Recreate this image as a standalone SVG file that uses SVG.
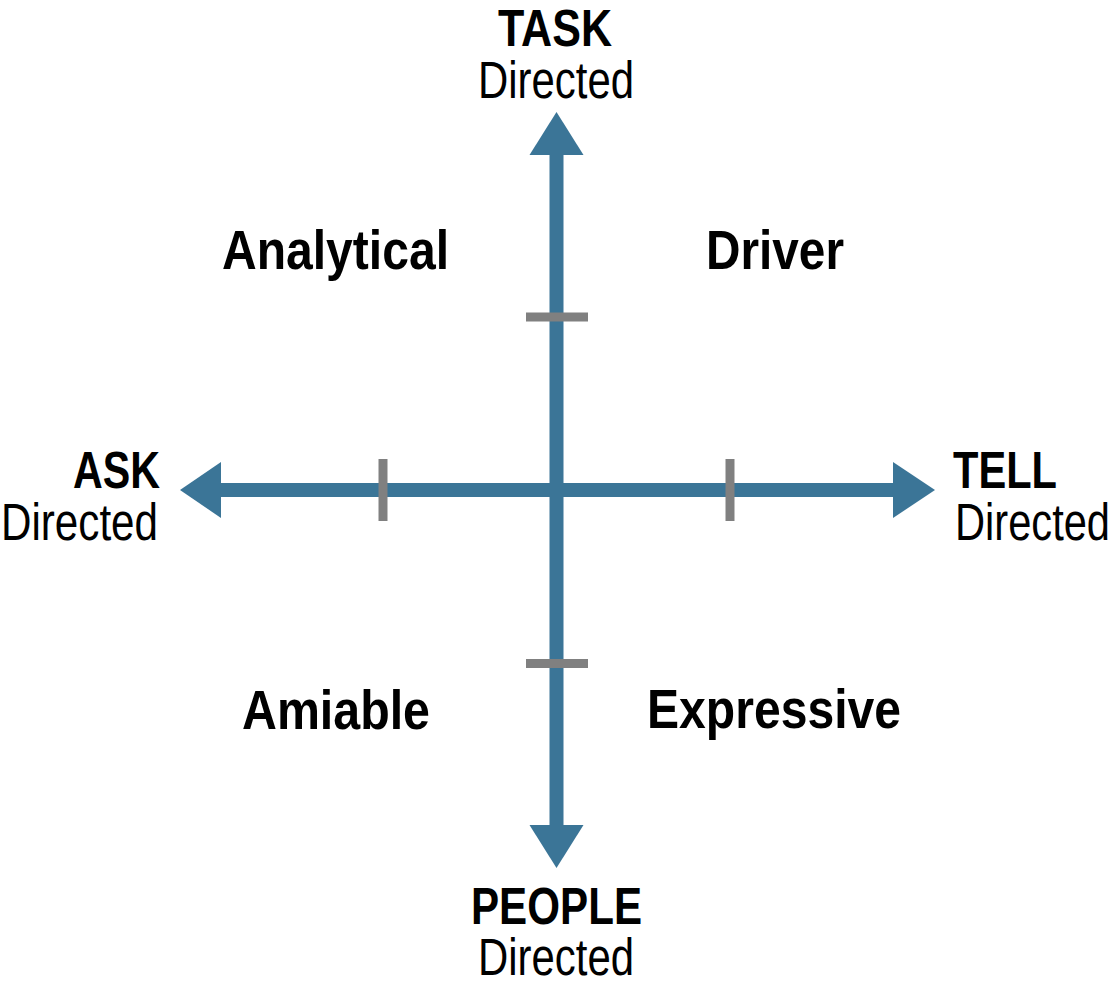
<svg xmlns="http://www.w3.org/2000/svg" width="1114" height="993" viewBox="0 0 1114 993">
<style>
.ax{stroke:#3b7597;stroke-width:14;fill:none}
.ah{fill:#3b7597}
.tk{stroke:#808080;stroke-width:9;fill:none}
.b{font-family:"Liberation Sans",Arial,sans-serif;font-weight:bold;font-size:51px;fill:#000}
.r{font-family:"Liberation Sans",Arial,sans-serif;font-size:51px;fill:#000}
.q{font-family:"Liberation Sans",Arial,sans-serif;font-weight:bold;font-size:56px;fill:#000}
</style>
<rect width="1114" height="993" fill="#fff"/>
<g id="connectors">
<line class="ax" x1="556.5" y1="150" x2="556.5" y2="830"/>
<line class="ax" x1="216" y1="490" x2="897" y2="490"/>
<polygon class="ah" points="556.5,112 529.5,155 583.5,155"/>
<polygon class="ah" points="556.5,868 529.5,825 583.5,825"/>
<polygon class="ah" points="180,490 221,462 221,518"/>
<polygon class="ah" points="935,490 893,462 893,518"/>
<line class="tk" x1="526" y1="317" x2="588" y2="317"/>
<line class="tk" x1="526" y1="663.5" x2="588" y2="663.5"/>
<line class="tk" x1="383" y1="459" x2="383" y2="521"/>
<line class="tk" x1="730" y1="459" x2="730" y2="521"/>
</g>
<g id="task">
<text class="b" x="498" y="46" textLength="114" lengthAdjust="spacingAndGlyphs">TASK</text>
<text class="r" x="478" y="98" textLength="156" lengthAdjust="spacingAndGlyphs">Directed</text>
</g>
<g id="ask">
<text class="b" x="73" y="488" textLength="87" lengthAdjust="spacingAndGlyphs">ASK</text>
<text class="r" x="1" y="540" textLength="157" lengthAdjust="spacingAndGlyphs">Directed</text>
</g>
<g id="tell">
<text class="b" x="953" y="488" textLength="104" lengthAdjust="spacingAndGlyphs">TELL</text>
<text class="r" x="955" y="540" textLength="155" lengthAdjust="spacingAndGlyphs">Directed</text>
</g>
<g id="people">
<text class="b" x="471" y="924" textLength="171" lengthAdjust="spacingAndGlyphs">PEOPLE</text>
<text class="r" x="478" y="975" textLength="156" lengthAdjust="spacingAndGlyphs">Directed</text>
</g>
<g id="analytical">
<text class="q" x="222" y="269" textLength="227" lengthAdjust="spacingAndGlyphs">Analytical</text>
</g>
<g id="driver">
<text class="q" x="706" y="269" textLength="138" lengthAdjust="spacingAndGlyphs">Driver</text>
</g>
<g id="amiable">
<text class="q" x="242" y="729" textLength="188" lengthAdjust="spacingAndGlyphs">Amiable</text>
</g>
<g id="expressive">
<text class="q" x="647" y="728" textLength="254" lengthAdjust="spacingAndGlyphs">Expressive</text>
</g>
</svg>
